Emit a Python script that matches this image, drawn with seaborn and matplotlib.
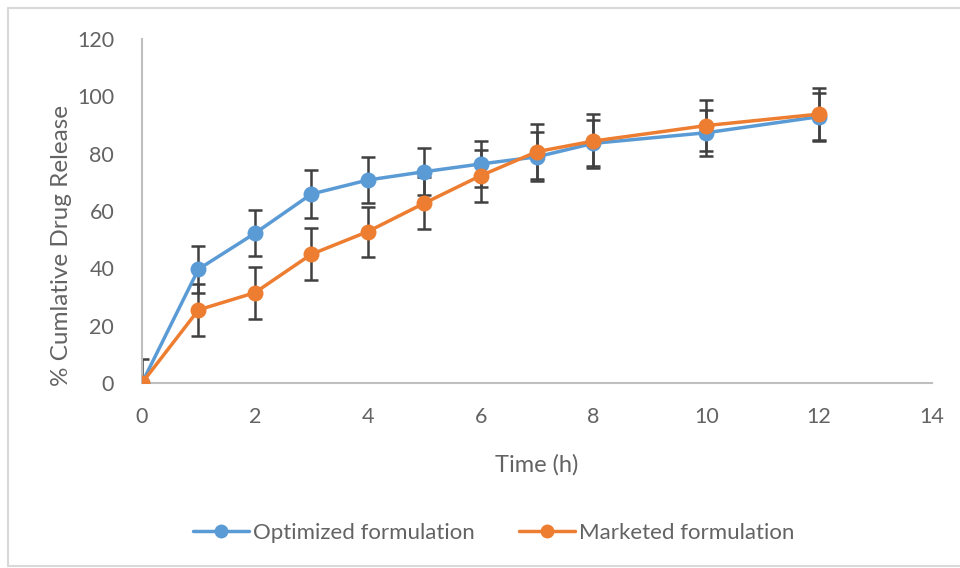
import matplotlib
matplotlib.use("Agg")
import matplotlib.pyplot as plt
import seaborn as sns
import pandas as pd
from matplotlib.lines import Line2D

# ---- data ----
time_h = [0, 1, 2, 3, 4, 5, 6, 7, 8, 10, 12]
optimized = [0, 39.7, 52.2, 65.9, 70.8, 73.7, 76.4, 78.9, 83.6, 87.3, 92.9]
optimized_sd = [8.5, 8.2, 8.0, 8.3, 8.1, 8.2, 8.0, 8.5, 8.0, 8.0, 8.4]
marketed = [0, 25.5, 31.5, 44.9, 52.8, 62.7, 72.3, 80.7, 84.4, 89.8, 93.8]
marketed_sd = [0, 9.2, 9.0, 9.0, 8.7, 9.0, 9.0, 9.5, 9.5, 9.0, 9.0]
series_names = ["Optimized formulation", "Marketed formulation"]
x_ticks = [0, 2, 4, 6, 8, 10, 12, 14]
y_ticks = [0, 20, 40, 60, 80, 100, 120]

colors = {"Optimized formulation": "#5B9BD5", "Marketed formulation": "#ED7D31"}
text_color = "#636363"
err_color = "#404040"

sns.set_style("white")
plt.rcParams["font.family"] = ["Lato", "DejaVu Sans"]

df = pd.concat([
    pd.DataFrame({"Time": time_h, "Release": optimized, "Series": series_names[0]}),
    pd.DataFrame({"Time": time_h, "Release": marketed, "Series": series_names[1]}),
])

fig = plt.figure(figsize=(9.6, 5.68), dpi=100)
ax = fig.add_axes([142 / 960, 1 - 383 / 568, (932 - 142) / 960, (383 - 39) / 568])

# error bars beneath the markers
for vals, sds in [(optimized, optimized_sd), (marketed, marketed_sd)]:
    ax.errorbar(time_h, vals, yerr=sds, fmt="none", ecolor=err_color,
                elinewidth=1.8, capsize=5, capthick=1.8, zorder=2)

sns.lineplot(data=df, x="Time", y="Release", hue="Series", palette=colors,
             marker="o", markersize=11.5, markeredgewidth=0, linewidth=2.5,
             ax=ax, legend=False, zorder=3)

ax.set_xlim(0, 14)
ax.set_ylim(0, 120)
ax.set_xticks(x_ticks)
ax.set_yticks(y_ticks)
ax.tick_params(axis="both", length=0, labelsize=15.5, colors=text_color)
ax.tick_params(axis="x", pad=17)
ax.tick_params(axis="y", pad=20)

for side in ["top", "right"]:
    ax.spines[side].set_visible(False)
for side in ["left", "bottom"]:
    ax.spines[side].set_color("#BFBFBF")
    ax.spines[side].set_linewidth(1.5)

ax.set_xlabel("Time (h)", fontsize=17, color=text_color, va="center")
ax.xaxis.set_label_coords(0.5, (383 - 465) / 344)
ax.set_ylabel("% Cumlative Drug Release", fontsize=17.5, color=text_color, va="center")
ax.yaxis.set_label_coords((62 - 142) / 790, (383 - 245) / 344)

handles = [Line2D([0], [0], color=colors[n], lw=2.5, marker="o", markersize=10,
                  markeredgewidth=0) for n in series_names]
fig.legend(handles, series_names, loc="center", bbox_to_anchor=(494 / 960, 1 - 533 / 568),
           ncol=2, frameon=False, fontsize=16, labelcolor=text_color,
           handlelength=2.5, handletextpad=0.2, columnspacing=2.0)

# outer chart-area border (left, top, bottom)
border = dict(color="#D9D9D9", linewidth=1.5, transform=fig.transFigure)
fig.add_artist(Line2D([8 / 960, 8 / 960], [1 - 8 / 568, 1 - 566 / 568], **border))
fig.add_artist(Line2D([8 / 960, 1], [1 - 8 / 568, 1 - 8 / 568], **border))
fig.add_artist(Line2D([8 / 960, 1], [1 - 566 / 568, 1 - 566 / 568], **border))

fig.savefig("out.png", dpi=100)
